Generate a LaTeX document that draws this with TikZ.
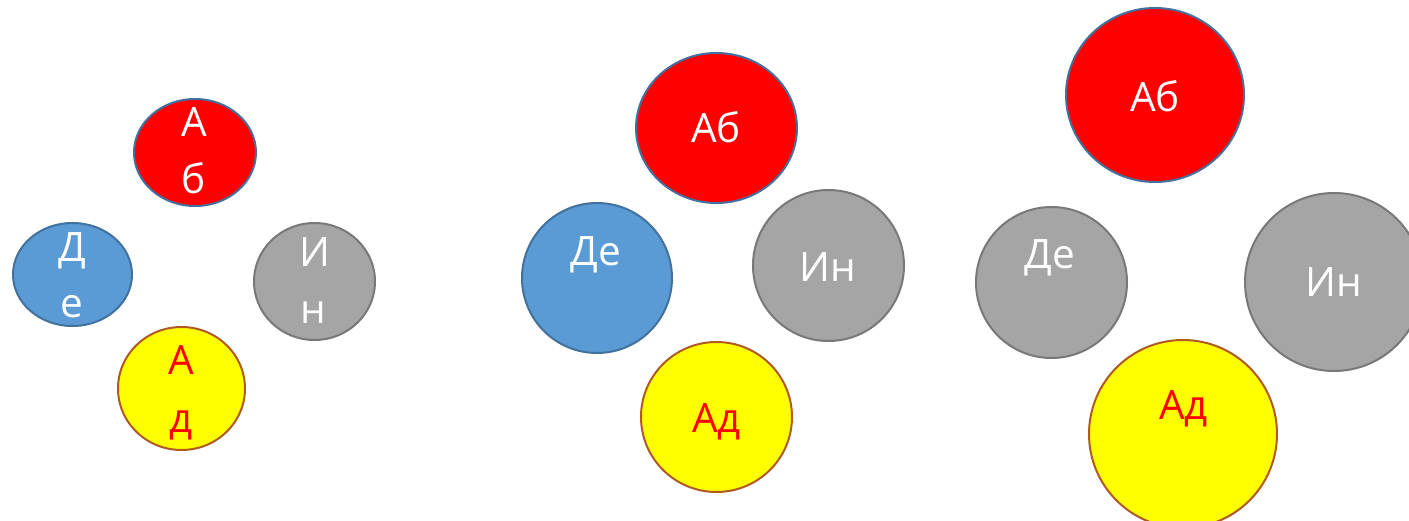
\documentclass[tikz,border=0pt]{standalone}
\usepackage{fontspec}
\setmainfont{Open Sans}
\usetikzlibrary{shapes.geometric}
\definecolor{cred}{HTML}{FF0000}
\definecolor{cblue}{HTML}{5B9BD5}
\definecolor{cgray}{HTML}{A5A5A5}
\definecolor{cyellow}{HTML}{FFFF00}
\definecolor{bblue}{HTML}{41719C}
\definecolor{bgray}{HTML}{787878}
\definecolor{bbrown}{HTML}{AE5A21}
\tikzset{
  blob/.style n args={2}{ellipse, inner sep=0pt, line width=2pt, minimum width=#1pt, minimum height=#2pt},
  redblob/.style={fill=cred, draw=bblue},
  blueblob/.style={fill=cblue, draw=bblue},
  grayblob/.style={fill=cgray, draw=bgray},
  yellowblob/.style={fill=cyellow, draw=bbrown},
  lbl/.style={anchor=base, inner sep=0pt, font=\fontsize{40.5}{48}\selectfont, text=white},
  lblred/.style={lbl, text=cred}
}
\begin{document}
\begin{tikzpicture}[x=1pt,y=-1pt]
\useasboundingbox (0,0) rectangle (1409,521);
\clip (0,0) rectangle (1409,521);
% group 1
\node[blob={122}{107}, redblob] (ab1) at (195,152.5) {};
\node[blob={119}{103}, blueblob] (de1) at (72.5,274.5) {};
\node[blob={121}{117}, grayblob] (in1) at (314.5,281.5) {};
\node[blob={127}{123}, yellowblob] (ad1) at (181.5,388.5) {};
\node[lbl] (ab1a) at (194,137) {А};
\node[lbl] (ab1b) at (194,194) {б};
\node[lbl] (de1a) at (72,262) {Д};
\node[lbl] (de1b) at (72,318) {е};
\node[lbl] (in1a) at (315,267) {И};
\node[lbl] (in1b) at (313,324) {н};
\node[lblred] (ad1a) at (181,375) {А};
\node[lblred] (ad1b) at (181,432) {д};
% group 2
\node[blob={161}{150}, redblob] (ab2) at (716.5,128) {};
\node[blob={150}{150}, blueblob] (de2) at (597,278) {};
\node[blob={151}{151}, grayblob] (in2) at (828.5,265.5) {};
\node[blob={151}{150}, yellowblob] (ad2) at (716.5,417) {};
\node[lbl] (ab2t) at (716,143) {Аб};
\node[lbl] (de2t) at (596,266) {Де};
\node[lbl] (in2t) at (828,282) {Ин};
\node[lblred] (ad2t) at (716.5,432) {Ад};
% group 3
\node[blob={178}{174}, redblob] (ab3) at (1155,95) {};
\node[blob={151}{151}, grayblob] (de3) at (1051.5,282.5) {};
\node[blob={178}{178}, grayblob] (in3) at (1334,282) {};
\node[blob={188}{188}, yellowblob] (ad3) at (1183,434) {};
\node[lbl] (ab3t) at (1155,112) {Аб};
\node[lbl] (de3t) at (1050,269) {Де};
\node[lbl] (in3t) at (1333.5,297) {Ин};
\node[lblred] (ad3t) at (1183.5,419) {Ад};
\end{tikzpicture}
\end{document}
